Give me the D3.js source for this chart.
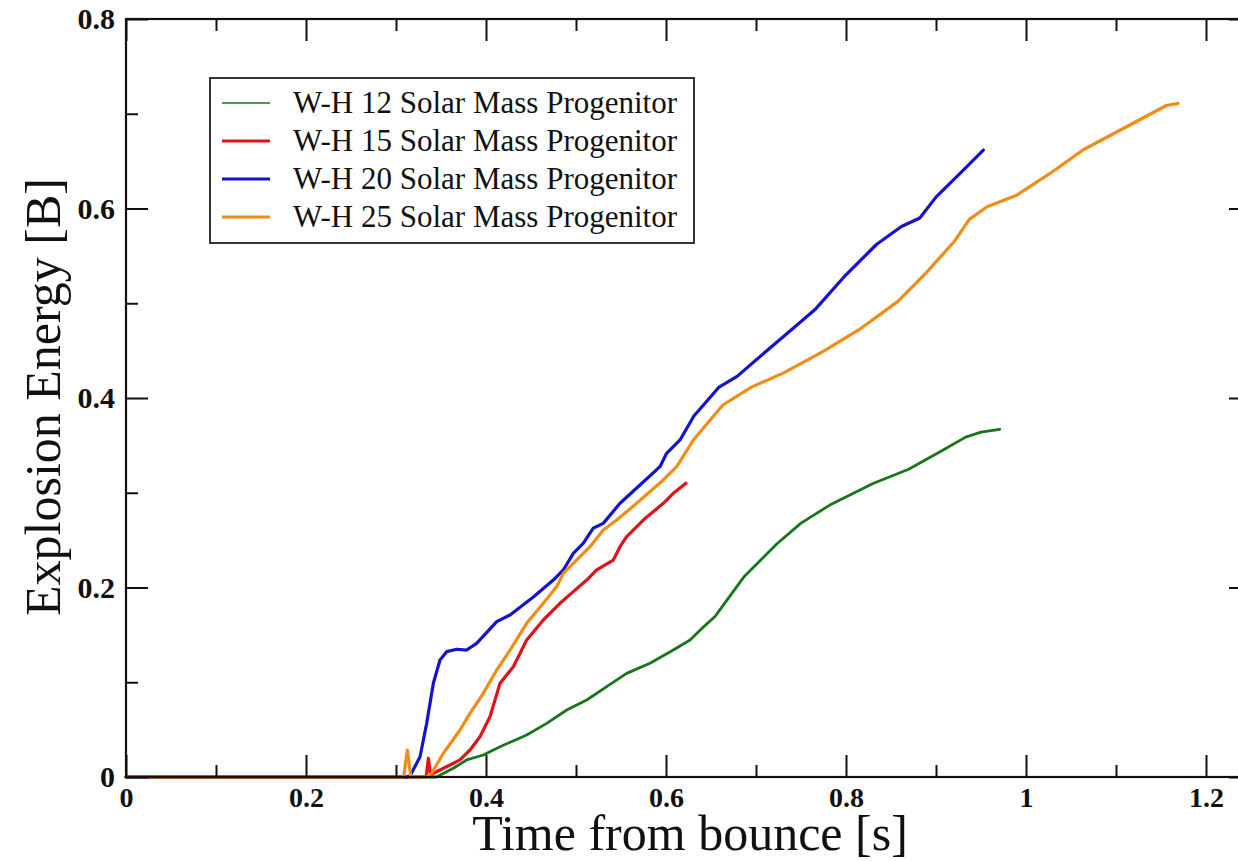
<!DOCTYPE html>
<meta charset="utf-8">
<html>
  <head>
    <script src="https://d3js.org/d3.v7.min.js"></script>
    <style>
      body { margin: 0; background: white; }
      text { font-family: "Liberation Serif", "Times New Roman", serif; fill: #111; }
      .tick text { font-weight: bold; }
    </style>
  </head>
  <body>
  <script>

// series: [time from bounce (s), explosion energy (B)]
const wh12 = [[0,0],[0.345,0],[0.3637,0.0092],[0.3785,0.018],[0.397,0.0232],[0.4156,0.032],
  [0.4452,0.0443],[0.4674,0.0566],[0.4897,0.0707],[0.5119,0.0813],[0.5341,0.0953],[0.5563,0.1094],
  [0.5822,0.12],[0.6081,0.134],[0.6267,0.1446],[0.6378,0.155],[0.655,0.17],[0.687,0.2117],
  [0.7227,0.2456],[0.75,0.268],[0.782,0.287],[0.83,0.3097],[0.8696,0.3248],[0.905,0.3436],
  [0.933,0.3587],[0.95,0.364],[0.9707,0.367]];

const wh15 = [[0,0],[0.3335,0],[0.336,0.0197],[0.3385,0.002],[0.3415,0.004],[0.36,0.0127],
  [0.3711,0.018],[0.3822,0.0285],[0.3933,0.0425],[0.4044,0.0636],[0.4156,0.0989],[0.4304,0.1164],
  [0.4452,0.1446],[0.4637,0.1657],[0.4822,0.1833],[0.497,0.1956],[0.5119,0.2079],[0.523,0.2185],
  [0.5415,0.229],[0.5489,0.2431],[0.5563,0.2536],[0.5748,0.2712],[0.597,0.2889],[0.6081,0.2994],
  [0.6222,0.31]];

const wh20 = [[0,0],[0.312,0],[0.3156,0.001],[0.3267,0.0214],[0.3341,0.0566],[0.3415,0.0989],
  [0.3489,0.1235],[0.3563,0.1323],[0.3674,0.1348],[0.3785,0.134],[0.3896,0.1411],[0.4119,0.164],
  [0.4267,0.171],[0.4526,0.19],[0.4748,0.2079],[0.4859,0.2185],[0.497,0.236],[0.508,0.2466],
  [0.519,0.2625],[0.5303,0.2677],[0.5489,0.2889],[0.5711,0.3082],[0.5933,0.3275],[0.6007,0.3416],
  [0.6156,0.3557],[0.631,0.381],[0.659,0.4116],[0.679,0.4228],[0.711,0.449],[0.7345,0.468],
  [0.7663,0.494],[0.798,0.528],[0.8338,0.562],[0.8616,0.581],[0.882,0.59],[0.9,0.612],
  [0.934,0.644],[0.9526,0.6617]];

const wh25 = [[0,0],[0.3085,0],[0.3126,0.0285],[0.3165,0],[0.334,0],[0.3396,0.004],[0.3526,0.025],
  [0.3711,0.0496],[0.3822,0.0672],[0.397,0.0883],[0.4119,0.1129],[0.4267,0.134],[0.4452,0.1622],
  [0.4637,0.1833],[0.4785,0.2008],[0.4859,0.2149],[0.497,0.2255],[0.5156,0.2431],[0.5303,0.2607],
  [0.5452,0.2712],[0.5674,0.2889],[0.597,0.3135],[0.6119,0.3275],[0.6304,0.3557],[0.6632,0.3926],
  [0.695,0.4115],[0.7307,0.4265],[0.7743,0.449],[0.814,0.4718],[0.8577,0.502],[0.889,0.532],
  [0.921,0.566],[0.937,0.5885],[0.9567,0.6018],[0.9896,0.614],[1.0267,0.637],[1.0637,0.662],
  [1.119,0.69],[1.156,0.7087],[1.169,0.711]];

const series_names = ['W-H 12 Solar Mass Progenitor', 'W-H 15 Solar Mass Progenitor',
                      'W-H 20 Solar Mass Progenitor', 'W-H 25 Solar Mass Progenitor'];
const series_data = [wh12, wh15, wh20, wh25];

const x_major = [0, 0.2, 0.4, 0.6, 0.8, 1, 1.2],
      x_minor = [0.1, 0.3, 0.5, 0.7, 0.9, 1.1],
      y_major = [0, 0.2, 0.4, 0.6, 0.8],
      y_minor = [0.1, 0.3, 0.5, 0.7];

const colours = ['#17761a', '#dd1518', '#1414cc', '#f28c16'],
      widths = [2.8, 3.2, 3.2, 3.2],
      legend_widths = [1.6, 3, 3, 3];

const width = 1238, height = 861,
      plot_left = 126, plot_right = 1251, plot_top = 19, plot_bottom = 777;

const svg = d3.select('body').append('svg')
  .attr('width', width)
  .attr('height', height);

const x = d3.scaleLinear().domain([0, 1.25]).range([plot_left, plot_right]),
      y = d3.scaleLinear().domain([0, 0.8]).range([plot_bottom, plot_top]);

const fmt = d => d3.format('~g')(d);

// curves first, the frame goes over them
const line = d3.line().x(d => x(d[0])).y(d => y(d[1]));

svg.append('g')
  .selectAll('path')
  .data(series_data)
  .enter()
    .append('path')
      .attr('d', line)
      .attr('fill', 'none')
      .attr('stroke', (d, i) => colours[i])
      .attr('stroke-width', (d, i) => widths[i])
      .attr('stroke-linejoin', 'round')
      .attr('stroke-linecap', 'round');

// axes, ticks pointing inward on all four sides
const add_axis = (axis, transform, values, size, labels) => {
  const g = svg.append('g')
    .attr('transform', transform)
    .call(axis.tickValues(values).tickSize(-size).tickPadding(labels ? 10 : 0)
      .tickFormat(labels ? fmt : ''));
  g.select('.domain').remove();
  g.selectAll('.tick line').attr('stroke', '#111').attr('stroke-width', 2);
  g.selectAll('.tick text').style('font-size', '28px').attr('fill', '#111');
  return g;
};

add_axis(d3.axisBottom(x), `translate(0,${plot_bottom})`, x_major, 22, true);
add_axis(d3.axisBottom(x), `translate(0,${plot_bottom})`, x_minor, 12, false);
add_axis(d3.axisTop(x), `translate(0,${plot_top})`, x_major, 22, false);
add_axis(d3.axisTop(x), `translate(0,${plot_top})`, x_minor, 12, false);
const yl = add_axis(d3.axisLeft(y), `translate(${plot_left},0)`, y_major, 22, true);
yl.selectAll('.tick text').style('font-size', '30px').attr('x', -11);
add_axis(d3.axisLeft(y), `translate(${plot_left},0)`, y_minor, 12, false);
add_axis(d3.axisRight(y), `translate(${plot_right},0)`, y_major, 22, false);
add_axis(d3.axisRight(y), `translate(${plot_right},0)`, y_minor, 12, false);

svg.append('rect')
  .attr('x', plot_left).attr('y', plot_top)
  .attr('width', plot_right - plot_left).attr('height', plot_bottom - plot_top)
  .attr('fill', 'none')
  .attr('stroke', '#111')
  .attr('stroke-width', 2.2);

// axis titles
svg.append('text')
  .attr('x', 690).attr('y', 850)
  .attr('text-anchor', 'middle')
  .style('font-size', '50px')
  .text('Time from bounce [s]');

svg.append('text')
  .attr('transform', 'translate(60,397) rotate(-90)')
  .attr('text-anchor', 'middle')
  .style('font-size', '50px')
  .text('Explosion Energy [B]');

// legend
const legend = svg.append('g');
legend.append('rect')
  .attr('x', 210).attr('y', 78)
  .attr('width', 484).attr('height', 165)
  .attr('fill', 'white')
  .attr('stroke', '#222')
  .attr('stroke-width', 1.8);

const row = legend.selectAll('g.row')
  .data(series_names)
  .enter()
    .append('g')
      .attr('class', 'row')
      .attr('transform', (d, i) => `translate(0,${103 + i * 38})`);

row.append('line')
  .attr('x1', 222).attr('x2', 270)
  .attr('stroke', (d, i) => colours[i])
  .attr('stroke-width', (d, i) => legend_widths[i]);

row.append('text')
  .attr('x', 293)
  .attr('dy', '0.33em')
  .style('font-size', '31px')
  .text(d => d);

  </script>
  </body>
</html>
